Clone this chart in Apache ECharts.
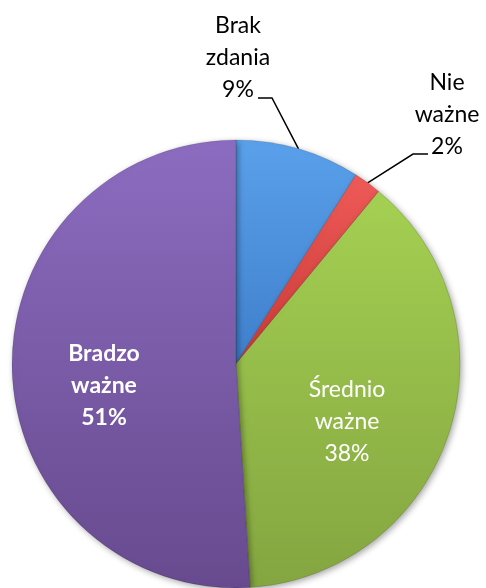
<!DOCTYPE html>
<html>
<head>
<meta charset="utf-8">
<script src="https://cdn.jsdelivr.net/npm/echarts@6/dist/echarts.min.js"></script>
<style>
  html, body { margin: 0; padding: 0; background: #fff; }
  #chart { width: 486px; height: 588px; }
</style>
</head>
<body>
<div id="chart"></div>
<script>
// dane wykresu
var categories = ['Brak\nzdania', 'Nie\nważne', 'Średnio\nważne', 'Bradzo\nważne'];
var values = [9, 2, 38, 51];
// kolory: [jasny, ciemny]
var colors = [
  ['#5aa0ea', '#3f7fcc'],
  ['#ee5a57', '#c93a37'],
  ['#a4d052', '#84a540'],
  ['#8c6cc0', '#674a8e']
];
// pozycje etykiet (px)
var labelPos = [[238, 58], [447, 115], [347, 422], [104, 386]];
// załamania linii odniesienia (px): [kolano, koniec]
var leaderBends = [[[272, 98], [258, 98]], [[413, 154], [428, 154]]];

var chart = echarts.init(document.getElementById('chart'));

var data = categories.map(function (name, i) {
  var item = {
    name: name,
    value: values[i],
    itemStyle: {
      color: new echarts.graphic.LinearGradient(0, 0, 0, 1, [
        { offset: 0, color: colors[i][0] },
        { offset: 1, color: colors[i][1] }
      ])
    }
  };
  if (i < 2) {
    item.label = { position: 'outside', color: '#000' };
    item.labelLine = { show: true };
  } else {
    item.label = { position: 'inside', color: '#fff', fontWeight: i === 3 ? 'bold' : 'normal' };
    item.labelLine = { show: false };
  }
  return item;
});

var option = {
  animation: false,
  series: [{
    type: 'pie',
    center: [236, 364],
    radius: 224,
    startAngle: 90,
    clockwise: true,
    data: data,
    itemStyle: {
      borderColor: 'rgba(0,0,0,0.25)',
      borderWidth: 0.5,
      shadowColor: 'rgba(0,0,0,0.35)',
      shadowBlur: 6,
      shadowOffsetX: 2,
      shadowOffsetY: 2
    },
    label: {
      formatter: '{b}\n{d}%',
      fontFamily: 'Lato',
      fontSize: 23,
      lineHeight: 32,
      align: 'center',
      overflow: 'none'
    },
    labelLine: {
      lineStyle: { color: '#000', width: 1.5 },
      length: 20,
      length2: 12
    },
    labelLayout: function (params) {
      var i = params.dataIndex;
      var p = labelPos[i];
      var res = { x: p[0], y: p[1], align: 'center', verticalAlign: 'middle' };
      if (i < 2 && params.labelLinePoints) {
        res.labelLinePoints = [params.labelLinePoints[0]].concat(leaderBends[i]);
      }
      return res;
    }
  }]
};

chart.setOption(option);
</script>
</body>
</html>
